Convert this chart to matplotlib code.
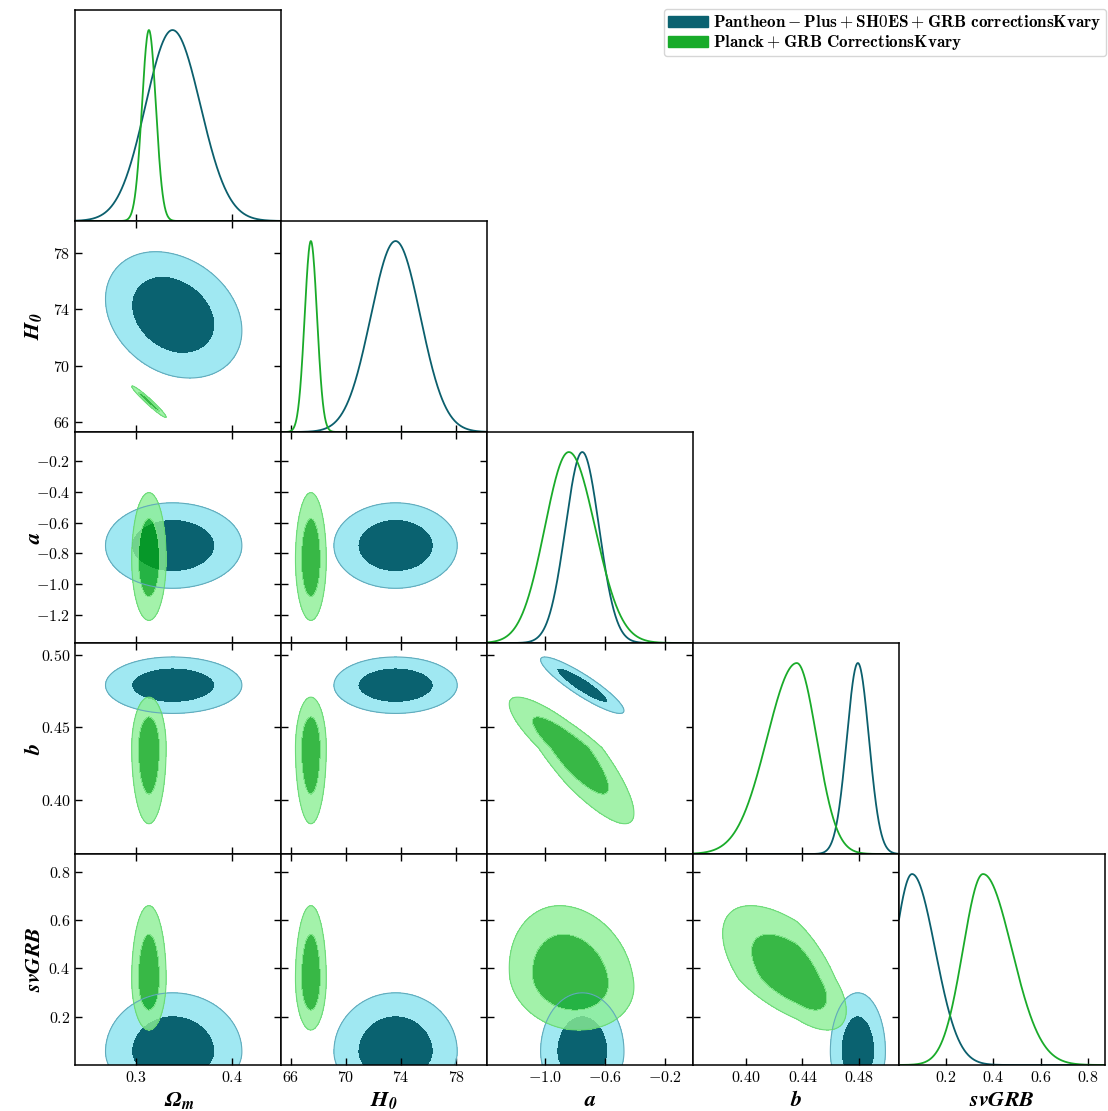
import numpy as np
import matplotlib.pyplot as plt
from matplotlib.patches import Patch

plt.rcParams['mathtext.fontset'] = 'cm'

# parameters, axis ranges and ticks
names = ['Om', 'H0', 'a', 'b', 'sv']
labels = [r'$\mathbfit{\Omega_m}$', r'$\mathbfit{H_0}$', r'$\mathbfit{a}$',
          r'$\mathbfit{b}$', r'$\mathbfit{svGRB}$']
ranges = [(0.237, 0.451), (65.3, 80.25), (-1.385, -0.01), (0.363, 0.508), (0.0, 0.873)]
xticks = [[0.3, 0.4], [66, 70, 74, 78], [-1.0, -0.6, -0.2],
          [0.40, 0.44, 0.48], [0.2, 0.4, 0.6, 0.8]]
xticklabels = [['0.3', '0.4'], ['66', '70', '74', '78'], ['-1.0', '-0.6', '-0.2'],
               ['0.40', '0.44', '0.48'], ['0.2', '0.4', '0.6', '0.8']]
yticks = [[], [66, 70, 74, 78], [-1.2, -1.0, -0.8, -0.6, -0.4, -0.2],
          [0.40, 0.45, 0.50], [0.2, 0.4, 0.6, 0.8]]
yticklabels = [[], ['66', '70', '74', '78'], ['-1.2', '-1.0', '-0.8', '-0.6', '-0.4', '-0.2'],
               ['0.40', '0.45', '0.50'], ['0.2', '0.4', '0.6', '0.8']]

# Pantheon+SH0ES+GRB: mode, lower sigma, upper sigma
pan_mode = [0.338, 73.6, -0.75, 0.479, 0.055]
pan_slo = [0.028, 1.8, 0.112, 0.0078, 0.075]
pan_shi = [0.029, 1.8, 0.112, 0.0078, 0.098]
pan_rho = {('Om', 'H0'): -0.25, ('a', 'b'): -0.9, ('Om', 'a'): 0.0,
           ('b', 'sv'): 0.0, ('a', 'sv'): 0.0}

# Planck+GRB
pl_mode = [0.3135, 67.45, -0.84, 0.436, 0.356]
pl_slo = [0.0072, 0.45, 0.16, 0.021, 0.085]
pl_shi = [0.0072, 0.45, 0.175, 0.014, 0.122]
pl_rho = {('Om', 'H0'): -0.97, ('a', 'b'): -0.86, ('b', 'sv'): -0.62,
          ('a', 'sv'): -0.15}

# teal drawn first, green on top with transparency
sets = [
    dict(mode=pan_mode, slo=pan_slo, shi=pan_shi, rho=pan_rho, alpha=1.0,
         line='#0b5f6d', inner='#0a6270', outer='#a0e8f2', edge='#62aabb'),
    dict(mode=pl_mode, slo=pl_slo, shi=pl_shi, rho=pl_rho, alpha=0.8,
         line='#1aab2a', inner='#06a618', outer='#8cef95', edge='#5fd46c'),
]


def zscore(v, s, k):
    return np.where(v < s['mode'][k], (v - s['mode'][k]) / s['slo'][k],
                    (v - s['mode'][k]) / s['shi'][k])


def fmt(lst):
    return [r'$\mathbf{%s}$' % t for t in lst]


fig = plt.figure(figsize=(11.08, 11.11), dpi=100)
gs = fig.add_gridspec(5, 5, left=75.3 / 1108, right=1105 / 1108,
                      top=1 - 10 / 1111, bottom=1 - 1065 / 1111,
                      hspace=0, wspace=0)

for i in range(5):
    for j in range(i + 1):
        ax = fig.add_subplot(gs[i, j])
        ax.set_xlim(ranges[j])
        ax.tick_params(direction='in', length=5, width=1, labelsize=11.5)
        for sp in ax.spines.values():
            sp.set_linewidth(1.1)
        if i == j:
            x = np.linspace(ranges[j][0], ranges[j][1], 600)
            for s in sets:
                ax.plot(x, np.exp(-0.5 * zscore(x, s, j) ** 2), color=s['line'], lw=1.3)
            ax.set_ylim(0, 1.105)
            ax.set_yticks([])
        else:
            ax.set_ylim(ranges[i])
            x = np.linspace(ranges[j][0], ranges[j][1], 300)
            y = np.linspace(ranges[i][0], ranges[i][1], 300)
            X, Y = np.meshgrid(x, y)
            for s in sets:
                r = s['rho'].get((names[j], names[i]), 0.0)
                zx, zy = zscore(X, s, j), zscore(Y, s, i)
                q = (zx ** 2 - 2 * r * zx * zy + zy ** 2) / (1 - r ** 2)
                ax.contourf(X, Y, q, levels=[0, 2.30, 6.18],
                            colors=[s['inner'], s['outer']], alpha=s['alpha'])
                ax.contour(X, Y, q, levels=[6.18], colors=[s['edge']],
                           linewidths=0.8, alpha=s['alpha'])
            ax.tick_params(top=True, right=True)
            ax.set_yticks(yticks[i], fmt(yticklabels[i]) if j == 0 else [])
        ax.set_xticks(xticks[j], fmt(xticklabels[j]) if i == 4 else [])
        if i == 4:
            ax.set_xlabel(labels[j], fontsize=16, math_fontfamily='stix')
            ax.xaxis.set_label_coords(0.5, -0.12)
        if j == 0 and i > 0:
            ax.set_ylabel(labels[i], fontsize=16, math_fontfamily='stix')
            ax.yaxis.set_label_coords(-0.15, 0.5)

handles = [Patch(color='#0b6270'), Patch(color='#18ab2a')]
leg_labels = [r'$\mathbf{Pantheon-Plus+SH0ES+GRB\ correctionsKvary}$',
              r'$\mathbf{Planck+GRB\ CorrectionsKvary}$']
fig.legend(handles, leg_labels, loc='upper right', fontsize=12.3,
           bbox_to_anchor=(1106 / 1108, 1 - 9 / 1111), borderaxespad=0,
           handlelength=2.35, handleheight=0.6, handletextpad=0.3,
           labelspacing=0.05, borderpad=0.25, edgecolor='#cccccc')

fig.savefig('out.png', dpi=100)
